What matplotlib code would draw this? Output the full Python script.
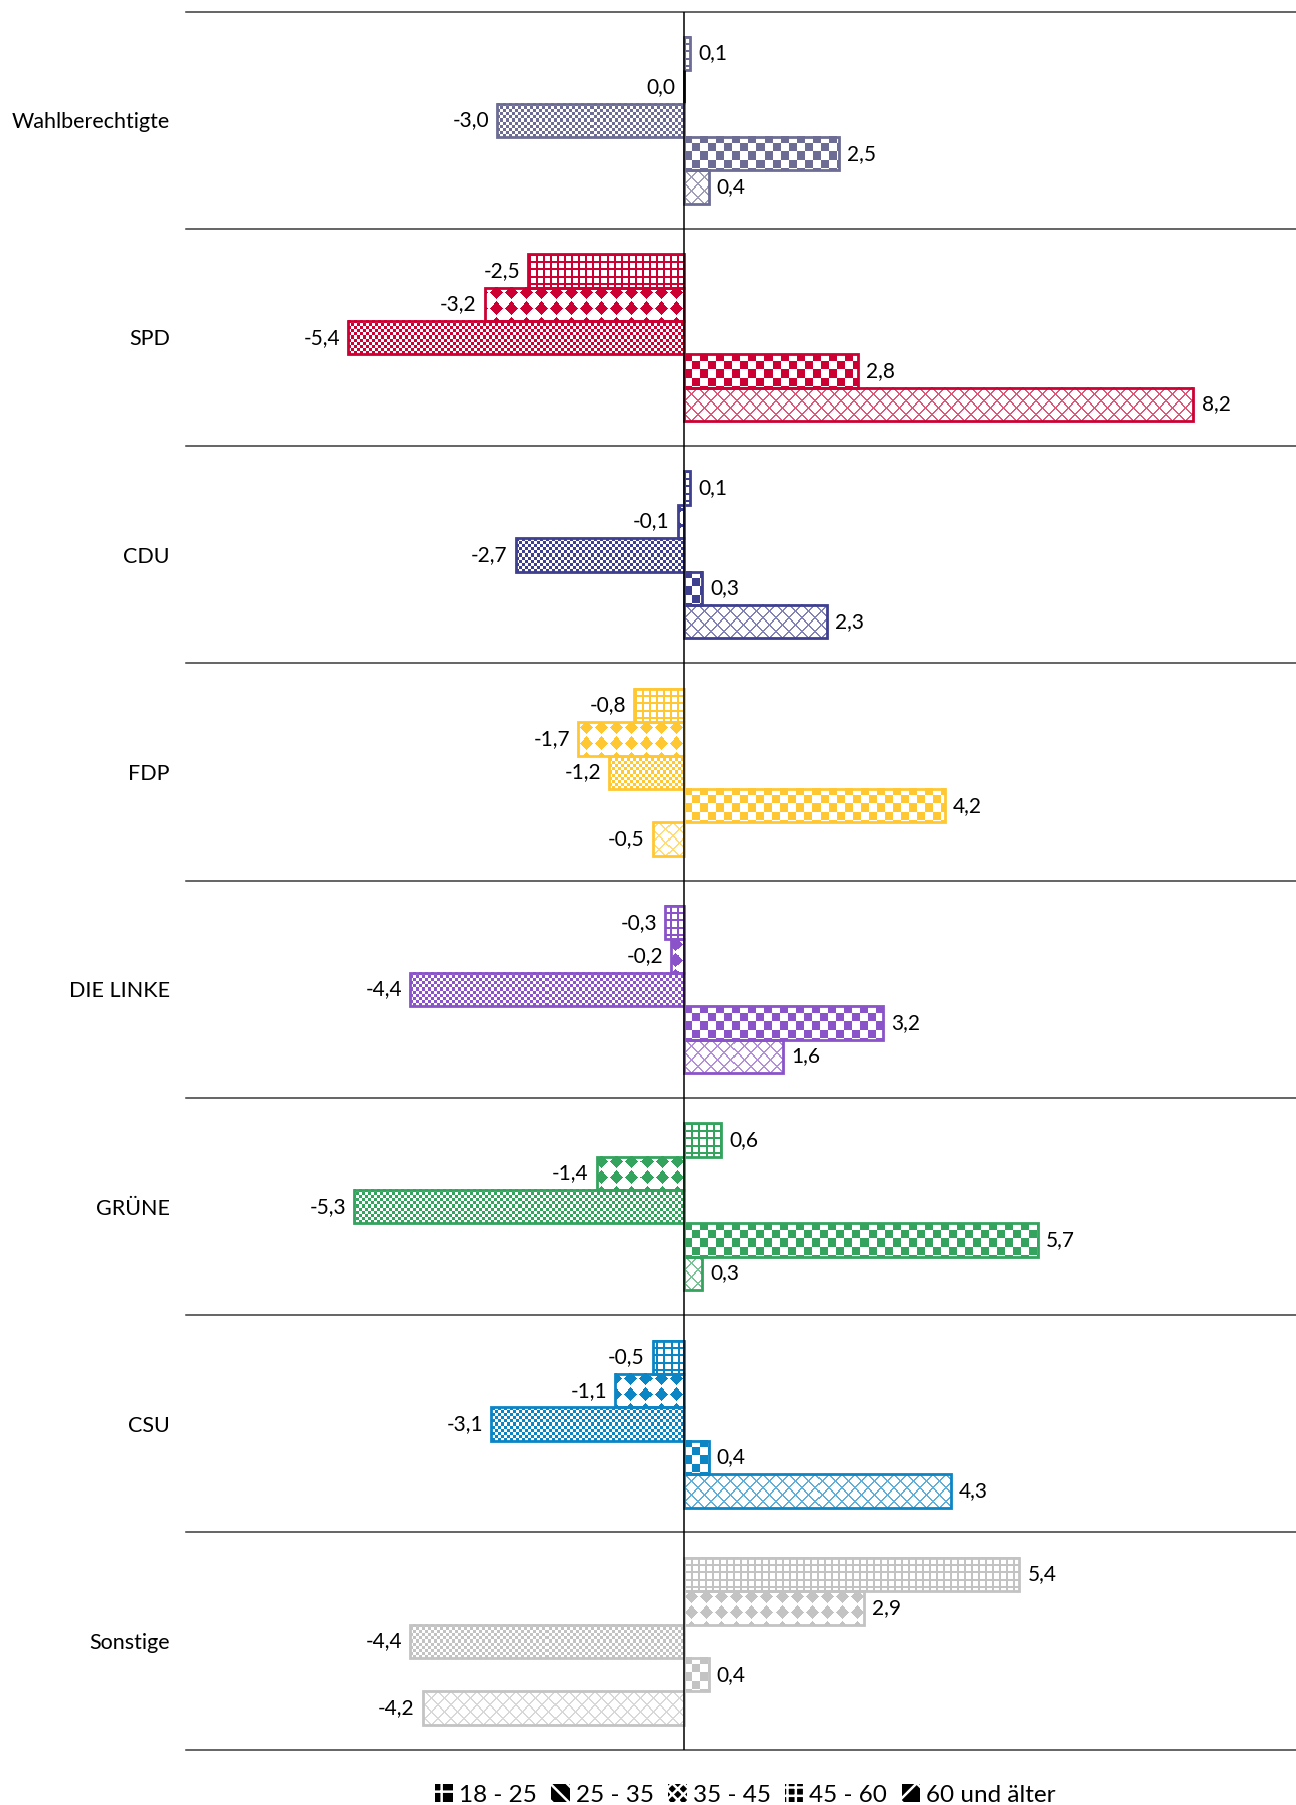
import numpy as np
import matplotlib
matplotlib.use("Agg")
import matplotlib.pyplot as plt
from matplotlib.patches import Patch

# ---------------------------------------------------
# data: change per age group, per party
groups = ["Wahlberechtigte", "SPD", "CDU", "FDP", "DIE LINKE",
          "GRÜNE", "CSU", "Sonstige"]
ages = ["18 - 25", "25 - 35", "35 - 45", "45 - 60", "60 und älter"]

wahlberechtigte = [0.1, 0.0, -3.0, 2.5, 0.4]
spd = [-2.5, -3.2, -5.4, 2.8, 8.2]
cdu = [0.1, -0.1, -2.7, 0.3, 2.3]
fdp = [-0.8, -1.7, -1.2, 4.2, -0.5]
linke = [-0.3, -0.2, -4.4, 3.2, 1.6]
gruene = [0.6, -1.4, -5.3, 5.7, 0.3]
csu = [-0.5, -1.1, -3.1, 0.4, 4.3]
sonstige = [5.4, 2.9, -4.4, 0.4, -4.2]

values = [wahlberechtigte, spd, cdu, fdp, linke, gruene, csu, sonstige]
colors = ["#6c6c94", "#cc0033", "#3f3f8f", "#ffc832",
          "#8b53c9", "#33a35e", "#0c85c5", "#c3c3c3"]

plt.rcParams['font.family'] = ['Lato', 'DejaVu Sans']
plt.rcParams['hatch.linewidth'] = 1.8

fig = plt.figure(figsize=(12.96, 18.05), dpi=100)
ax = fig.add_axes([0.1439, 0.0306, 0.8561, 0.963])
xlim = (-8.0, 9.85)
ax.set_xlim(*xlim)
ax.set_ylim(8, 0)

pad = 0.1166
bh = 0.1537


def pattern(kind, h, w, xoff):
    # pixel masks for the five fill patterns
    yy, xx = np.mgrid[0:h, 0:w]
    xx = xx + xoff
    if kind == 0:      # grid
        m = (xx % 7 < 2) | (yy % 7 < 2)
    elif kind == 1:    # diamonds
        p = 15
        dx = (xx % p) - (p - 1) / 2.
        dy = ((yy + 2) % p) - (p - 1) / 2.
        m = (np.abs(dx) + np.abs(dy)) < 7.0
    elif kind == 2:    # fine checker
        m = ((xx // 3 + yy // 3) % 2) == 0
    elif kind == 3:    # coarse checker
        m = ((xx // 8 + (yy + 1) // 8) % 2) == 0
    else:              # diagonal crosses
        p = 13
        m = ((xx + yy) % p < 1.6) | ((xx - yy) % p < 1.6)
    return m


zero_px = ax.transData.transform((0, 0))[0]

for g, (vals, col) in enumerate(zip(values, colors)):
    rgb = np.array(matplotlib.colors.to_rgb(col))
    ys = [g + pad + (k + 0.5) * bh for k in range(5)]
    edges = ['black' if v == 0 else col for v in vals]
    bars = ax.barh(ys, vals, height=bh, facecolor='none',
                   edgecolor=edges, linewidth=2, zorder=3)
    for k, (y, v) in enumerate(zip(ys, vals)):
        x0, x1 = min(0, v), max(0, v)
        p0 = ax.transData.transform((x0, y + bh / 2))
        p1 = ax.transData.transform((x1, y - bh / 2))
        w = int(round(p1[0] - p0[0]))
        h = int(round(p1[1] - p0[1]))
        if w >= 1:
            m = pattern(k, h, w, int(round(p0[0] - zero_px)))
            img = np.ones((h, w, 3))
            if k == 4:
                img[m] = 0.35 + 0.65 * rgb
            else:
                img[m] = rgb
            ax.imshow(img, extent=(x0, x1, y + bh / 2, y - bh / 2),
                      aspect='auto', interpolation='nearest', zorder=2)
        lab = ("%.1f" % v).replace('.', ',')
        if v > 0:
            ax.text(v + 0.13, y, lab, ha='left', va='center', fontsize=15)
        else:
            ax.text(v - 0.13, y, lab, ha='right', va='center', fontsize=15)

ax.set_xlim(*xlim)
ax.set_ylim(8, 0)

for i in range(9):
    ax.axhline(i, color='#3a3a3a', lw=1.1, zorder=1, clip_on=False)
ax.axvline(0, color='black', lw=1.1, zorder=4)

ax.set_yticks([g + 0.5 for g in range(len(groups))])
ax.set_yticklabels(groups)
ax.set_xticks([])
ax.tick_params(axis='y', length=0, pad=12, labelsize=15.5)
for s in ax.spines.values():
    s.set_visible(False)

hatches = ['+', '\\\\', 'xxx', '++', 'x']
handles = [Patch(facecolor='black', edgecolor='white', linewidth=0, hatch=h)
           for h in hatches]
fig.legend(handles, ages, loc='center', bbox_to_anchor=(0.575, 1 - 1795 / 1805.),
           ncol=5, frameon=False, fontsize=17.5, handlelength=0.75,
           handleheight=0.75, handletextpad=0.25, columnspacing=0.6)

fig.savefig("out.png", dpi=100)
plt.close()
